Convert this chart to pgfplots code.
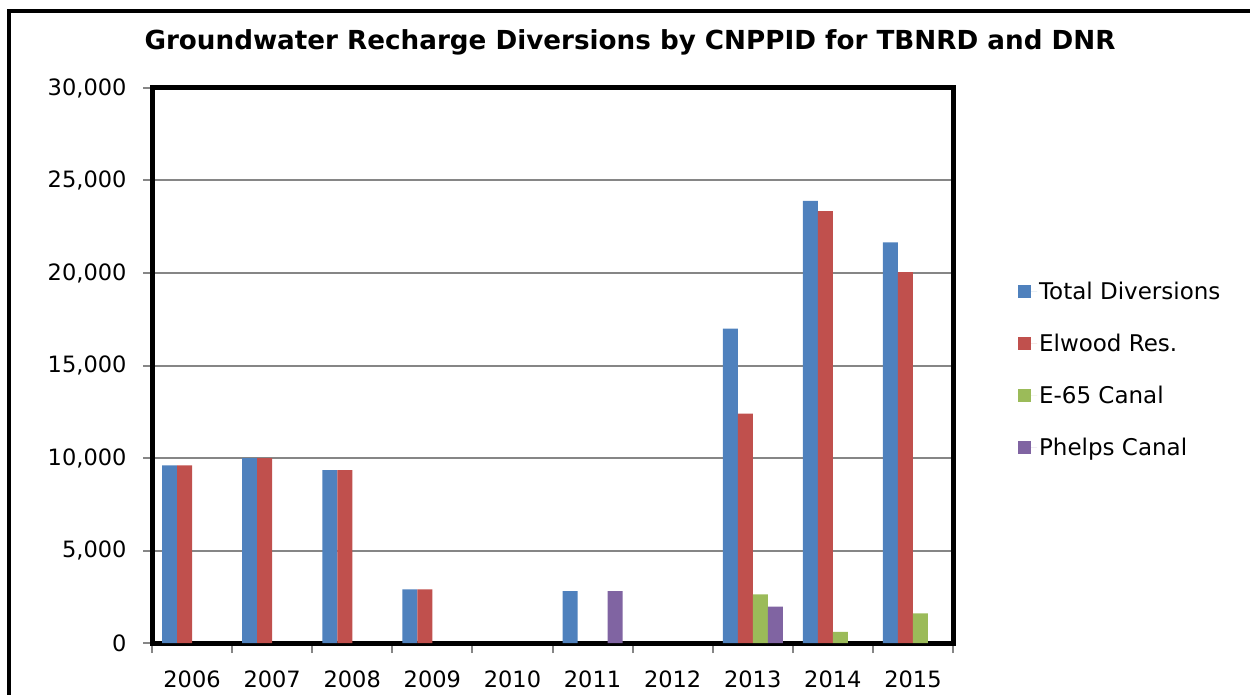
\documentclass[border=0pt]{standalone}
\usepackage{pgfplots}
\pgfplotsset{compat=1.18}
\usepackage{fontspec}
\setmainfont{DejaVu Sans}
\definecolor{cblue}{HTML}{4F81BD}
\definecolor{cred}{HTML}{C0504D}
\definecolor{cgreen}{HTML}{9BBB59}
\definecolor{cpurple}{HTML}{8064A2}
\definecolor{gridgray}{RGB}{134,134,134}
\begin{document}
\begin{tikzpicture}[x=1pt,y=1pt]
\useasboundingbox (0,0) rectangle (1250,694);
\draw[line width=4pt] (9,-20) -- (9,683) -- (1270,683);
\node[font=\fontsize{26.2}{30}\selectfont\bfseries, anchor=base] at (630,644) {Groundwater Recharge Diversions by CNPPID for TBNRD and DNR};
\begin{axis}[
 at={(152pt,51pt)}, anchor=south west, scale only axis,
 width=801pt, height=555pt,
 xmin=-0.5, xmax=9.5, ymin=0, ymax=30000,
 ytick={0,5000,10000,15000,20000,25000,30000},
 xtick={0,1,2,3,4,5,6,7,8,9},
 xticklabels={2006,2007,2008,2009,2010,2011,2012,2013,2014,2015},
 minor xtick={-0.5,0.5,1.5,2.5,3.5,4.5,5.5,6.5,7.5,8.5,9.5},
 major x tick style={draw=none},
 minor x tick style={gridgray, line width=2pt},
 minor tick length=10pt,
 y tick style={gridgray, line width=2pt},
 major tick length=9pt,
 tick align=outside,
 xtick pos=bottom, ytick pos=left,
 ymajorgrids, grid style={color=gridgray, line width=2pt},
 axis line style={line width=5pt, black},
 tick label style={font=\fontsize{22.5}{24}\selectfont, black},
 xticklabel style={yshift=-15pt},
 yticklabel style={xshift=-13pt, /pgf/number format/1000 sep={,}},
 /pgf/number format/assume math mode=true,
 scaled y ticks=false,
 ybar=0pt, bar width=15pt,
 legend style={draw=none, at={(1.081,0.492)}, anchor=west,
   font=\fontsize{23}{25}\selectfont, row sep=29pt, inner sep=0pt},
 legend cell align=left,
]
\addplot[fill=cblue, draw=none, legend image code/.code={\fill[cblue] (0pt,-6.5pt) rectangle (13pt,6.5pt); \path (0pt,0pt) -- (19pt,0pt);}]
 coordinates {(0,9600)(1,10000)(2,9350)(3,2900)(5,2810)(7,17000)(8,23900)(9,21650)};
\addplot[fill=cred, draw=none, legend image code/.code={\fill[cred] (0pt,-6.5pt) rectangle (13pt,6.5pt); \path (0pt,0pt) -- (19pt,0pt);}]
 coordinates {(0,9600)(1,10000)(2,9350)(3,2900)(7,12400)(8,23350)(9,20050)};
\addplot[fill=cgreen, draw=none, legend image code/.code={\fill[cgreen] (0pt,-6.5pt) rectangle (13pt,6.5pt); \path (0pt,0pt) -- (19pt,0pt);}]
 coordinates {(7,2630)(8,600)(9,1600)};
\addplot[fill=cpurple, draw=none, legend image code/.code={\fill[cpurple] (0pt,-6.5pt) rectangle (13pt,6.5pt); \path (0pt,0pt) -- (19pt,0pt);}]
 coordinates {(5,2810)(7,1960)};
\legend{Total Diversions, Elwood Res., E-65 Canal, Phelps Canal}
\end{axis}
\end{tikzpicture}
\end{document}
